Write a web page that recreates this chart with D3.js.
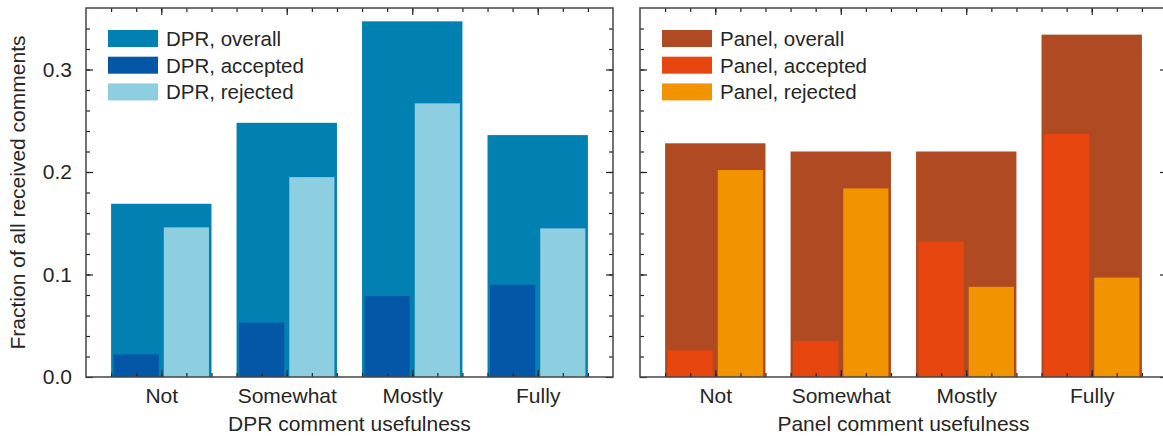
<!DOCTYPE html>
<html>
<head>
<meta charset="utf-8">
<script src="https://cdn.jsdelivr.net/npm/d3@7"></script>
<style>
  body { margin: 0; background: #fff; }
  text { font-family: "Liberation Sans", Arial, sans-serif; fill: #262626; }
</style>
</head>
<body>
<div id="chart"></div>
<script>
const categories = ["Not", "Somewhat", "Mostly", "Fully"];
const yTicks = [0, 0.1, 0.2, 0.3];

const dprOverall = [0.169, 0.248, 0.347, 0.236];
const dprAccepted = [0.022, 0.053, 0.079, 0.090];
const dprRejected = [0.146, 0.195, 0.267, 0.145];

const panelOverall = [0.228, 0.220, 0.220, 0.334];
const panelAccepted = [0.026, 0.035, 0.132, 0.237];
const panelRejected = [0.202, 0.184, 0.088, 0.097];

const W = 1163, H = 436;
const plotTop = 8, plotBottom = 377;
const fs = 21;

const svg = d3.select("#chart").append("svg")
    .attr("width", W)
    .attr("height", H);

const y = d3.scaleLinear().domain([0, 0.36]).range([plotBottom, plotTop]);

function drawPanel(opts) {
    const x = d3.scaleLinear().domain([0.4, 4.6]).range([opts.left, opts.right]);
    const g = svg.append("g");
    const bw = x(0.8) - x(0);
    const sw = x(0.36) - x(0);

    // overall bars
    g.selectAll("rect.overall")
      .data(opts.overall)
      .enter().append("rect")
        .attr("x", (d, i) => x(i + 1) - bw / 2)
        .attr("y", d => y(d))
        .attr("width", bw)
        .attr("height", d => y(0) - y(d))
        .attr("fill", opts.colors[0]);

    g.selectAll("rect.acc")
      .data(opts.accepted)
      .enter().append("rect")
        .attr("x", (d, i) => x(i + 1 - 0.2) - sw / 2)
        .attr("y", d => y(d))
        .attr("width", sw)
        .attr("height", d => y(0) - y(d))
        .attr("fill", opts.colors[1]);

    g.selectAll("rect.rej")
      .data(opts.rejected)
      .enter().append("rect")
        .attr("x", (d, i) => x(i + 1 + 0.2) - sw / 2)
        .attr("y", d => y(d))
        .attr("width", sw)
        .attr("height", d => y(0) - y(d))
        .attr("fill", opts.colors[2]);

    const minorX = d3.range(3, 23).map(k => k * 0.2);
    const minorY = d3.range(1, 18).map(k => k * 0.02);

    // x axes
    g.append("g").attr("class", "axis")
        .attr("transform", `translate(0,${plotBottom})`)
        .call(d3.axisBottom(x).tickValues(minorX).tickSize(-4).tickFormat(""));
    g.append("g").attr("class", "axis")
        .attr("transform", `translate(0,${plotBottom})`)
        .call(d3.axisBottom(x).tickValues([1, 2, 3, 4]).tickSize(-7).tickPadding(11)
            .tickFormat(d => categories[d - 1]));
    g.append("g").attr("class", "axis")
        .attr("transform", `translate(0,${plotTop})`)
        .call(d3.axisTop(x).tickValues(minorX).tickSize(-4).tickFormat(""));
    g.append("g").attr("class", "axis")
        .attr("transform", `translate(0,${plotTop})`)
        .call(d3.axisTop(x).tickValues([1, 2, 3, 4]).tickSize(-7).tickFormat(""));

    // y axes
    g.append("g").attr("class", "axis")
        .attr("transform", `translate(${opts.left},0)`)
        .call(d3.axisLeft(y).tickValues(minorY).tickSize(-4).tickFormat(""));
    g.append("g").attr("class", "axis")
        .attr("transform", `translate(${opts.left},0)`)
        .call(d3.axisLeft(y).tickValues(yTicks).tickSize(-7).tickPadding(14)
            .tickFormat(opts.yLabels ? d3.format(".1f") : ""));
    g.append("g").attr("class", "axis")
        .attr("transform", `translate(${opts.right},0)`)
        .call(d3.axisRight(y).tickValues(minorY).tickSize(-4).tickFormat(""));
    g.append("g").attr("class", "axis")
        .attr("transform", `translate(${opts.right},0)`)
        .call(d3.axisRight(y).tickValues(yTicks).tickSize(-7).tickFormat(""));

    g.selectAll(".axis .domain").remove();
    g.selectAll(".axis line").attr("stroke", "#222").attr("stroke-width", 1.2);
    g.selectAll(".axis text")
        .attr("font-size", fs)
        .attr("font-family", "Liberation Sans, Arial, sans-serif")
        .attr("fill", "#262626");

    // frame
    g.append("rect")
        .attr("x", opts.left)
        .attr("y", plotTop)
        .attr("width", opts.right - opts.left)
        .attr("height", plotBottom - plotTop)
        .attr("fill", "none")
        .attr("stroke", "#444")
        .attr("stroke-width", 1.5);

    // x title
    g.append("text")
        .attr("x", (opts.left + opts.right) / 2)
        .attr("y", 431)
        .attr("text-anchor", "middle")
        .attr("font-size", fs)
        .text(opts.title);

    // legend
    const leg = g.append("g")
        .attr("transform", `translate(${opts.legendX},30)`);
    opts.legend.forEach((name, i) => {
        leg.append("rect")
            .attr("x", 0)
            .attr("y", i * 26.7)
            .attr("width", 50)
            .attr("height", 17)
            .attr("fill", opts.colors[i]);
        leg.append("text")
            .attr("x", 58)
            .attr("y", i * 26.7 + 16)
            .attr("font-size", 20.5)
            .text(name);
    });
}

drawPanel({
    left: 86, right: 613,
    overall: dprOverall, accepted: dprAccepted, rejected: dprRejected,
    colors: ["#0180b2", "#0357a6", "#8dcfe0"],
    legend: ["DPR, overall", "DPR, accepted", "DPR, rejected"],
    legendX: 108,
    title: "DPR comment usefulness",
    yLabels: true
});

drawPanel({
    left: 640, right: 1167,
    overall: panelOverall, accepted: panelAccepted, rejected: panelRejected,
    colors: ["#b04a22", "#e8460f", "#f29400"],
    legend: ["Panel, overall", "Panel, accepted", "Panel, rejected"],
    legendX: 662,
    title: "Panel comment usefulness",
    yLabels: false
});

svg.append("text")
    .attr("transform", `translate(25,${(plotTop + plotBottom) / 2}) rotate(-90)`)
    .attr("text-anchor", "middle")
    .attr("font-size", fs)
    .text("Fraction of all received comments");
</script>
</body>
</html>
